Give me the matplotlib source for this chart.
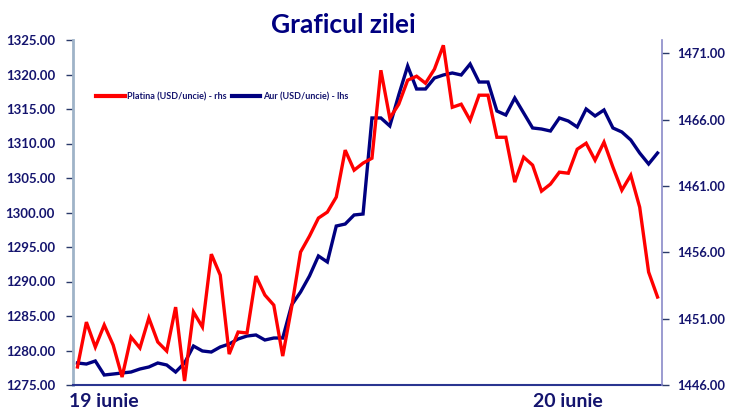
import matplotlib
matplotlib.use("Agg")
import matplotlib.pyplot as plt
import numpy as np

plt.rcParams['font.family'] = ['Lato', 'DejaVu Sans']

title = "Graficul zilei"
platina_label = "Platina (USD/uncie) - rhs"
aur_label = "Aur (USD/uncie) - lhs"
day_labels = ["19 iunie", "20 iunie"]
day_positions = [3, 55]

aur = [1278.19, 1278.04, 1278.48, 1276.45, 1276.59, 1276.74, 1276.88, 1277.32, 1277.61, 1278.19,
       1277.90, 1276.88, 1278.19, 1280.65, 1279.93, 1279.78, 1280.51, 1280.94, 1281.67, 1282.10,
       1282.25, 1281.52, 1281.81, 1281.81, 1286.59, 1288.48, 1290.80, 1293.70, 1292.83, 1298.04,
       1298.33, 1299.64, 1299.78, 1313.70, 1313.70, 1312.54, 1317.03, 1321.23, 1317.90, 1317.90,
       1319.49, 1319.93, 1320.22, 1319.93, 1321.52, 1318.91, 1318.91, 1314.71, 1314.13, 1316.59,
       1314.42, 1312.25, 1312.10, 1311.81, 1313.70, 1313.26, 1312.39, 1315.00, 1313.99, 1314.86,
       1312.25, 1311.67, 1310.51, 1308.62, 1307.03, 1308.62]

platina = [1447.36, 1450.74, 1448.86, 1450.52, 1449.01, 1446.60, 1449.61, 1448.79, 1451.05, 1449.24,
           1448.56, 1451.87, 1446.30, 1451.50, 1450.37, 1455.86, 1454.28, 1448.33, 1449.99, 1449.92,
           1454.21, 1452.78, 1452.02, 1448.18, 1451.87, 1456.02, 1457.22, 1458.58, 1459.03, 1460.16,
           1463.70, 1462.19, 1462.72, 1463.09, 1469.72, 1466.11, 1467.16, 1468.97, 1469.27, 1468.74,
           1469.80, 1471.60, 1466.93, 1467.16, 1465.95, 1467.84, 1467.84, 1464.67, 1464.67, 1461.29,
           1463.17, 1462.57, 1460.61, 1461.14, 1462.04, 1461.96, 1463.77, 1464.22, 1462.94, 1464.30,
           1462.42, 1460.68, 1461.81, 1459.40, 1454.51, 1452.63]

left_ticks = [1275, 1280, 1285, 1290, 1295, 1300, 1305, 1310, 1315, 1320, 1325]
right_ticks = [1446, 1451, 1456, 1461, 1466, 1471]

navy = "#000080"
txt = "#14146e"

fig = plt.figure(figsize=(7.29, 4.16), dpi=100)
ax = fig.add_axes([73/729, 31/416, 589/729, 345/416])
ax2 = ax.twinx()

x = np.arange(len(aur))
la, = ax.plot(x, aur, color=navy, lw=2.4, solid_joinstyle='miter', zorder=3)
lp, = ax2.plot(x, platina, color="#ff0000", lw=2.4, solid_joinstyle='miter', zorder=3)

ax.set_xlim(-0.5, len(aur) - 0.5)
ax.set_ylim(1275, 1325)
ax2.set_ylim(1446, 1472)
ax.set_yticks(left_ticks)
ax.set_yticklabels([f"{v:.2f}" for v in left_ticks])
ax2.set_yticks(right_ticks)
ax2.set_yticklabels([f"{v:.2f}" for v in right_ticks])

ax.set_xticks(day_positions)
ax.set_xticklabels(day_labels, fontsize=14, fontweight='bold', color=txt)
ax.tick_params(axis='x', length=0, pad=6)

ax.tick_params(axis='y', direction='out', length=5, width=1, color="#2a3a6a",
               labelsize=9.5, labelcolor=txt, pad=8)
ax2.tick_params(axis='y', direction='out', length=5, width=1, color="#2a3a6a",
                labelsize=9.3, labelcolor=txt, pad=6)
for lab in ax.get_yticklabels() + ax2.get_yticklabels():
    lab.set_fontweight('bold')

for a in (ax, ax2):
    a.spines['top'].set_visible(False)
ax.spines['left'].set_color("#9fb3c8")
ax.spines['left'].set_linewidth(2)
ax2.spines['left'].set_visible(False)
ax2.spines['right'].set_color("#8a8ac8")
ax2.spines['right'].set_linewidth(1.2)
ax.spines['right'].set_visible(False)
ax2.spines['bottom'].set_visible(False)
ax.spines['bottom'].set_color("#2a3590")
ax.spines['bottom'].set_linewidth(1.5)

fig.text(343/729, 1 - 25/416, title, ha='center', va='center', fontsize=19,
         fontweight='bold', color=navy)

leg = ax2.legend([lp, la], [platina_label, aur_label], loc='center left',
                 bbox_to_anchor=(0.025, 0.835), ncol=2, frameon=False,
                 prop={'size': 6.5, 'weight': 'bold'}, handlelength=3.2,
                 handletextpad=0.3, columnspacing=0.5)
for t in leg.get_texts():
    t.set_color(txt)
for h in leg.get_lines():
    h.set_linewidth(3)

fig.savefig("out.png", dpi=100)
